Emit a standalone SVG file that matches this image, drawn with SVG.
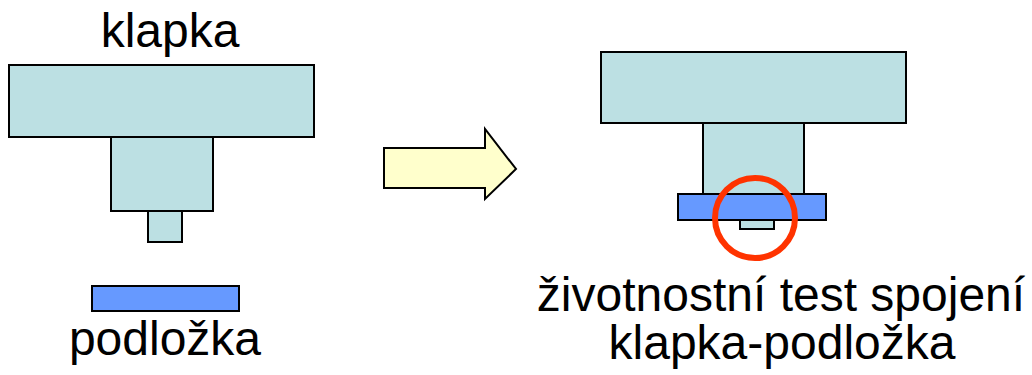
<svg xmlns="http://www.w3.org/2000/svg" width="1032" height="375" viewBox="0 0 1032 375">
<style>
.k{fill:#bce0e3;stroke:#000;stroke-width:2}
.p{fill:#6699ff;stroke:#000;stroke-width:2}
.t{font-family:"Liberation Sans",Arial,sans-serif;font-size:48px;fill:#000;text-anchor:middle}
</style>
<rect width="1032" height="375" fill="#fff"/>
<g id="left-klapka">
<rect class="k" x="9" y="65" width="305" height="72"/>
<rect class="k" x="111" y="137" width="102" height="74"/>
<rect class="k" x="148" y="211" width="34" height="31"/>
<text class="t" x="170" y="47">klapka</text>
</g>
<g id="left-podlozka">
<rect class="p" x="92" y="286" width="147" height="25"/>
<text class="t" x="165" y="355">podložka</text>
</g>
<g id="arrow">
<path d="M384,148 H485 V129 L516,169 L485,199 V188 H384 Z" fill="#ffffcc" stroke="#000" stroke-width="2"/>
</g>
<g id="right-assembly">
<rect class="k" x="601" y="52" width="305" height="71"/>
<rect class="k" x="703" y="123" width="101" height="71"/>
<rect class="p" x="678" y="194" width="148" height="26"/>
<rect class="k" x="740" y="220" width="34" height="9"/>
<circle cx="755" cy="218" r="40" fill="none" stroke="#ff3300" stroke-width="6"/>
<text class="t" x="781" y="311">životnostní test spojení</text>
<text class="t" x="782" y="359">klapka-podložka</text>
</g>
</svg>
